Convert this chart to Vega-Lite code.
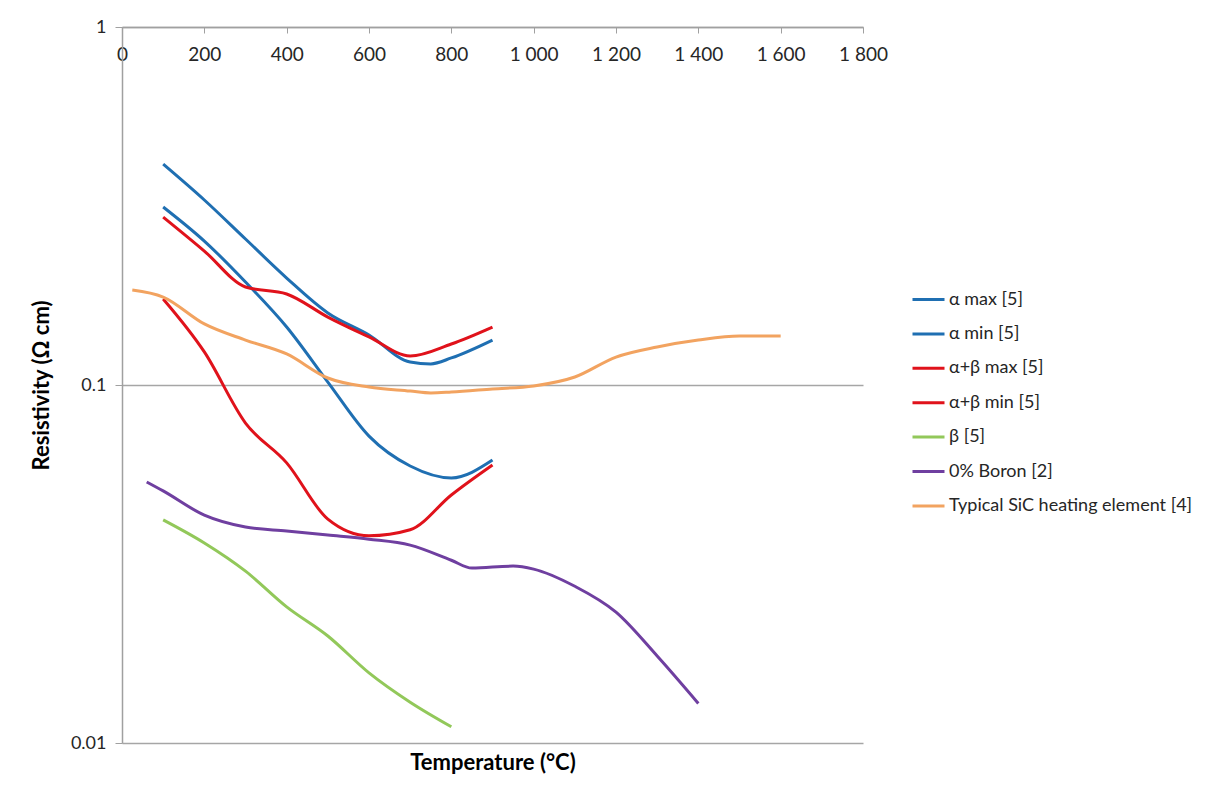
{
  "$schema": "https://vega.github.io/schema/vega-lite/v6.json",
  "width": 741,
  "height": 716,
  "autosize": {"type": "none"},
  "padding": {"left": 122, "top": 27, "right": 350, "bottom": 49},
  "background": "white",
  "config": {
    "view": {"stroke": null},
    "font": "Lato",
    "axis": {"labelFont": "Lato", "titleFont": "Lato", "labelColor": "#262626", "titleColor": "#000000"},
    "legend": {"labelFont": "Lato"}
  },
  "data": {
    "values": [
      {"series": "α max [5]", "T": 100, "R": 0.414},
      {"series": "α max [5]", "T": 200, "R": 0.3287},
      {"series": "α max [5]", "T": 300, "R": 0.2557},
      {"series": "α max [5]", "T": 400, "R": 0.199},
      {"series": "α max [5]", "T": 500, "R": 0.159},
      {"series": "α max [5]", "T": 600, "R": 0.138},
      {"series": "α max [5]", "T": 700, "R": 0.1159},
      {"series": "α max [5]", "T": 750, "R": 0.1145},
      {"series": "α max [5]", "T": 800, "R": 0.119},
      {"series": "α max [5]", "T": 900, "R": 0.1335},

      {"series": "α min [5]", "T": 100, "R": 0.3143},
      {"series": "α min [5]", "T": 200, "R": 0.2524},
      {"series": "α min [5]", "T": 300, "R": 0.1939},
      {"series": "α min [5]", "T": 400, "R": 0.1452},
      {"series": "α min [5]", "T": 500, "R": 0.1019},
      {"series": "α min [5]", "T": 600, "R": 0.072},
      {"series": "α min [5]", "T": 700, "R": 0.0594},
      {"series": "α min [5]", "T": 800, "R": 0.055},
      {"series": "α min [5]", "T": 900, "R": 0.0617},

      {"series": "α+β max [5]", "T": 100, "R": 0.2945},
      {"series": "α+β max [5]", "T": 200, "R": 0.2367},
      {"series": "α+β max [5]", "T": 300, "R": 0.1878},
      {"series": "α+β max [5]", "T": 400, "R": 0.1796},
      {"series": "α+β max [5]", "T": 500, "R": 0.1548},
      {"series": "α+β max [5]", "T": 600, "R": 0.1362},
      {"series": "α+β max [5]", "T": 700, "R": 0.1205},
      {"series": "α+β max [5]", "T": 800, "R": 0.1302},
      {"series": "α+β max [5]", "T": 900, "R": 0.1452},

      {"series": "α+β min [5]", "T": 100, "R": 0.1739},
      {"series": "α+β min [5]", "T": 200, "R": 0.1237},
      {"series": "α+β min [5]", "T": 300, "R": 0.0783},
      {"series": "α+β min [5]", "T": 400, "R": 0.0606},
      {"series": "α+β min [5]", "T": 500, "R": 0.0422},
      {"series": "α+β min [5]", "T": 600, "R": 0.0379},
      {"series": "α+β min [5]", "T": 700, "R": 0.0394},
      {"series": "α+β min [5]", "T": 800, "R": 0.0493},
      {"series": "α+β min [5]", "T": 900, "R": 0.0598},

      {"series": "β [5]", "T": 100, "R": 0.042},
      {"series": "β [5]", "T": 200, "R": 0.0362},
      {"series": "β [5]", "T": 300, "R": 0.0302},
      {"series": "β [5]", "T": 400, "R": 0.024},
      {"series": "β [5]", "T": 500, "R": 0.0199},
      {"series": "β [5]", "T": 600, "R": 0.0157},
      {"series": "β [5]", "T": 700, "R": 0.013},
      {"series": "β [5]", "T": 800, "R": 0.0111},

      {"series": "0% Boron [2]", "T": 60, "R": 0.0536},
      {"series": "0% Boron [2]", "T": 100, "R": 0.0506},
      {"series": "0% Boron [2]", "T": 200, "R": 0.0433},
      {"series": "0% Boron [2]", "T": 300, "R": 0.0401},
      {"series": "0% Boron [2]", "T": 400, "R": 0.0391},
      {"series": "0% Boron [2]", "T": 500, "R": 0.0381},
      {"series": "0% Boron [2]", "T": 600, "R": 0.0371},
      {"series": "0% Boron [2]", "T": 700, "R": 0.0357},
      {"series": "0% Boron [2]", "T": 800, "R": 0.0324},
      {"series": "0% Boron [2]", "T": 850, "R": 0.0308},
      {"series": "0% Boron [2]", "T": 950, "R": 0.0312},
      {"series": "0% Boron [2]", "T": 1000, "R": 0.0306},
      {"series": "0% Boron [2]", "T": 1100, "R": 0.0274},
      {"series": "0% Boron [2]", "T": 1200, "R": 0.0232},
      {"series": "0% Boron [2]", "T": 1300, "R": 0.0175},
      {"series": "0% Boron [2]", "T": 1400, "R": 0.0129},

      {"series": "Typical SiC heating element [4]", "T": 25, "R": 0.1842},
      {"series": "Typical SiC heating element [4]", "T": 100, "R": 0.1761},
      {"series": "Typical SiC heating element [4]", "T": 200, "R": 0.1481},
      {"series": "Typical SiC heating element [4]", "T": 300, "R": 0.1335},
      {"series": "Typical SiC heating element [4]", "T": 400, "R": 0.1221},
      {"series": "Typical SiC heating element [4]", "T": 500, "R": 0.1046},
      {"series": "Typical SiC heating element [4]", "T": 600, "R": 0.0987},
      {"series": "Typical SiC heating element [4]", "T": 700, "R": 0.0962},
      {"series": "Typical SiC heating element [4]", "T": 750, "R": 0.095},
      {"series": "Typical SiC heating element [4]", "T": 800, "R": 0.0956},
      {"series": "Typical SiC heating element [4]", "T": 900, "R": 0.0975},
      {"series": "Typical SiC heating element [4]", "T": 1000, "R": 0.0994},
      {"series": "Typical SiC heating element [4]", "T": 1100, "R": 0.1053},
      {"series": "Typical SiC heating element [4]", "T": 1200, "R": 0.1197},
      {"series": "Typical SiC heating element [4]", "T": 1300, "R": 0.1277},
      {"series": "Typical SiC heating element [4]", "T": 1400, "R": 0.1335},
      {"series": "Typical SiC heating element [4]", "T": 1500, "R": 0.137},
      {"series": "Typical SiC heating element [4]", "T": 1600, "R": 0.137}
    ]
  },
  "mark": {"type": "line", "interpolate": "monotone", "strokeWidth": 3, "clip": true},
  "encoding": {
    "x": {
      "field": "T",
      "type": "quantitative",
      "scale": {"domain": [0, 1800], "nice": false, "zero": false},
      "axis": {
        "orient": "bottom",
        "offset": -716,
        "values": [0, 200, 400, 600, 800, 1000, 1200, 1400, 1600, 1800],
        "labelExpr": "replace(format(datum.value, ','), ',', ' ')",
        "grid": false,
        "domainColor": "#a0a0a0",
        "domainWidth": 1.5,
        "tickColor": "#a0a0a0",
        "tickSize": 6,
        "labelPadding": 12,
        "labelFontSize": 19,
        "labelFlush": false,
        "title": "Temperature (°C)",
        "titleFontSize": 22,
        "titleFontWeight": "bold",
        "titleBaseline": "middle",
        "titleY": 735
      }
    },
    "y": {
      "field": "R",
      "type": "quantitative",
      "scale": {"type": "log", "domain": [0.01, 1], "nice": false},
      "axis": {
        "values": [0.01, 0.1, 1],
        "format": "~g",
        "grid": true,
        "gridColor": "#a6a6a6",
        "gridWidth": 1.5,
        "domainColor": "#a0a0a0",
        "domainWidth": 1.5,
        "tickColor": "#a0a0a0",
        "tickSize": 7,
        "labelPadding": 9,
        "labelFontSize": 18,
        "labelBaseline": "middle",
        "labelFlush": false,
        "title": "Resistivity (Ω cm)",
        "titleFontSize": 22,
        "titleFontWeight": "bold",
        "titlePadding": 17
      }
    },
    "color": {
      "field": "series",
      "type": "nominal",
      "scale": {
        "domain": ["α max [5]", "α min [5]", "α+β max [5]", "α+β min [5]", "β [5]", "0% Boron [2]", "Typical SiC heating element [4]"],
        "range": ["#1f6fb2", "#1f6fb2", "#e0121b", "#e0121b", "#92c85a", "#6f3fa0", "#f2a360"]
      },
      "legend": {
        "title": null,
        "orient": "none",
        "legendX": 789,
        "legendY": 255,
        "padding": 0,
        "symbolType": "stroke",
        "symbolSize": 1024,
        "symbolStrokeWidth": 3,
        "labelFontSize": 18,
        "labelColor": "#262626",
        "labelOffset": 3,
        "rowPadding": 7.4,
        "labelLimit": 400
      }
    },
    "detail": {"field": "series", "type": "nominal"}
  }
}
